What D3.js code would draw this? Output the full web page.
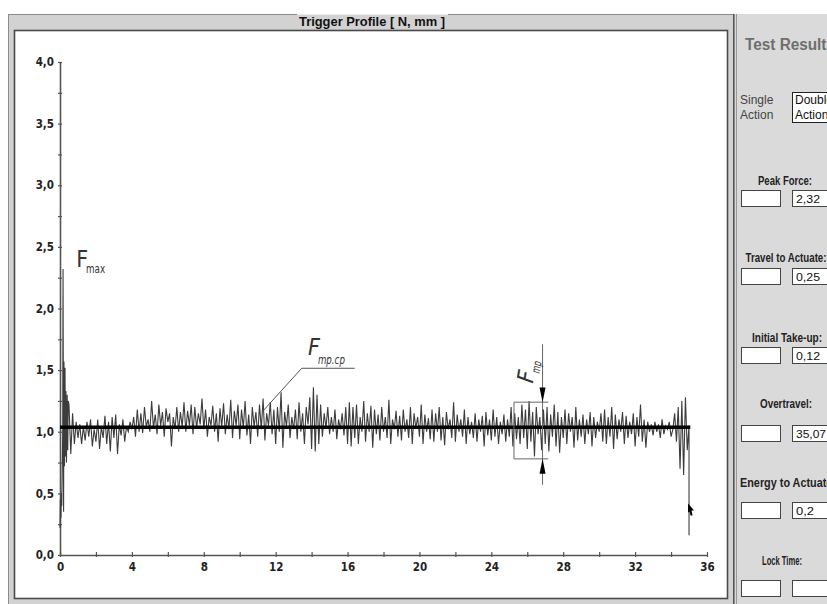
<!DOCTYPE html>
<html><head><meta charset="utf-8">
<script src="https://cdn.jsdelivr.net/npm/d3@7"></script>
<style>html,body{margin:0;padding:0;background:#fff;overflow:hidden}svg{display:block}</style>
</head><body>
<svg id="c" width="827" height="604"></svg>
<script>
// ---------- data ----------
const title = "Trigger Profile [ N, mm ]";
const xTickValues = [0, 4, 8, 12, 16, 20, 24, 28, 32, 36];
const xMinorTicks = [2, 6, 10, 14, 18, 22, 26, 30, 34];
const yTickValues = [0, 0.5, 1.0, 1.5, 2.0, 2.5, 3.0, 3.5, 4.0];
const yMinorTicks = [0.25, 0.75, 1.25, 1.75, 2.25, 2.75, 3.25, 3.75];

// initial take-up region (fine sampling)
const startTravel = [0, 0.02, 0.05, 0.08, 0.1, 0.13, 0.15, 0.17, 0.2, 0.22, 0.25, 0.28, 0.3, 0.33, 0.36, 0.4, 0.43, 0.46];
const startForce  = [0.22, 0.45, 0.3, 0.5, 0.4, 0.75, 1.0, 2.32, 0.35, 1.57, 0.72, 1.52, 0.8, 1.33, 0.75, 1.3, 0.85, 1.25];

// main trace, every 0.1 mm from 0.5 mm to 35.0 mm
const forceStart = 0.5, forceStep = 0.1;
const force = [
 1.22, 0.82, 1.15, 0.90, 1.08,
 0.95, 1.06, 0.90, 1.04, 0.93, 1.08, 0.96, 1.10, 0.88, 1.02,
 0.92, 1.10, 0.86, 1.04, 0.95, 1.13, 0.90, 1.08, 0.84, 1.12,
 0.95, 1.14, 0.82, 1.06, 0.97, 1.10, 0.92, 1.04, 1.00, 1.08,
 1.02, 1.12, 0.96, 1.18, 1.00, 1.15, 0.99, 1.20, 1.04, 1.10,
 1.00, 1.25, 1.03, 1.14, 0.98, 1.22, 1.05, 1.16, 0.96, 1.19,
 1.08, 1.15, 0.88, 1.12, 1.02, 1.20, 1.00, 1.16, 1.04, 1.24,
 1.00, 1.17, 1.05, 1.22, 0.98, 1.20, 1.03, 1.15, 1.06, 1.27,
 1.02, 1.18, 0.96, 1.12, 1.05, 1.21, 1.00, 1.15, 0.92, 1.19,
 1.04, 1.23, 0.98, 1.14, 1.02, 1.26, 0.95, 1.17, 1.05, 1.22,
 0.94, 1.18, 1.03, 1.25, 0.97, 1.14, 0.90, 1.20, 1.04, 1.16,
 0.96, 1.22, 1.02, 1.27, 0.93, 1.15, 1.05, 1.24, 0.98, 1.18,
 0.90, 1.20, 1.00, 1.32, 0.87, 1.16, 1.04, 1.22, 0.95, 1.12,
 1.02, 1.18, 0.94, 1.24, 1.00, 1.15, 0.90, 1.20, 1.06, 1.28,
 0.86, 1.36, 0.84, 1.30, 0.90, 1.22, 0.96, 1.15, 1.03, 1.20,
 0.98, 1.12, 1.00, 1.18, 0.94, 1.10, 1.02, 1.15, 0.97, 1.20,
 0.90, 1.24, 0.88, 1.20, 0.95, 1.22, 0.90, 1.12, 1.00, 1.25,
 0.92, 1.15, 1.00, 1.21, 0.87, 1.18, 0.98, 1.14, 0.93, 1.20,
 1.00, 1.12, 0.95, 1.26, 0.90, 1.10, 1.02, 1.17, 0.96, 1.13,
 0.93, 1.18, 1.00, 1.10, 0.95, 1.20, 0.90, 1.15, 1.03, 1.12,
 0.96, 1.22, 0.90, 1.14, 1.00, 1.11, 0.94, 1.18, 0.92, 1.15,
 1.00, 1.20, 0.93, 1.12, 0.89, 1.16, 1.02, 1.10, 0.95, 1.24,
 0.92, 1.14, 1.00, 1.10, 0.96, 1.18, 0.90, 1.12, 0.98, 1.08,
 0.95, 1.15, 0.92, 1.10, 1.00, 1.13, 0.88, 1.16, 0.97, 1.10,
 0.93, 1.18, 0.96, 1.12, 0.90, 1.08, 0.98, 1.14, 0.92, 1.10,
 0.96, 1.20, 0.88, 1.15, 0.94, 1.12, 0.90, 1.22, 0.95, 1.18,
 0.86, 1.25, 0.92, 1.16, 0.80, 1.20, 0.98, 1.12, 0.85, 1.18,
 0.90, 1.20, 0.84, 1.14, 0.96, 1.22, 0.88, 1.16, 0.83, 1.12,
 0.95, 1.18, 0.90, 1.15, 1.00, 1.12, 0.87, 1.20, 0.93, 1.10,
 0.96, 1.14, 0.90, 1.10, 0.98, 1.16, 0.88, 1.12, 0.95, 1.08,
 1.00, 1.15, 0.92, 1.18, 0.90, 1.12, 0.96, 1.20, 0.86, 1.14,
 0.94, 1.10, 1.00, 1.16, 0.90, 1.13, 0.95, 1.08, 0.98, 1.15,
 0.88, 1.12, 0.96, 1.22, 0.92, 1.10, 0.87, 1.08, 1.00, 1.06,
 0.97, 1.08, 1.00, 1.06, 0.95, 1.10, 0.98, 1.05, 1.02, 1.08,
 0.96, 1.02, 1.15, 0.92, 1.20, 0.70, 1.25, 0.65, 1.28, 0.85,
 1.05
];
const endTravel = [35.0];
const endForce  = [0.16];

const meanForce = 1.036;      // F mp.cp
const overtravel = 35.07;
const peakForce = 2.32;
const fmpTop = 1.24, fmpBottom = 0.78, fmpFrom = 25.26, fmpTo = 27.17, fmpAt = 26.85;

const resultLabels = ["Peak Force:", "Travel to Actuate:", "Initial Take-up:", "Overtravel:", "Energy to Actuate:", "Lock Time:"];
const resultValues = ["2,32", "0,25", "0,12", "35,07", "0,2", ""];

// ---------- drawing ----------
const NARROW = "'Liberation Sans Narrow','Arial Narrow','DejaVu Sans Condensed',sans-serif";
const SANS = "'Liberation Sans',Arial,sans-serif";
const svg = d3.select("#c");

// group box frame
svg.append("rect").attr("x", 8.5).attr("y", 14.5).attr("width", 726).attr("height", 592)
  .attr("fill", "#d2d2d2").attr("stroke", "#8c8c8c");
svg.append("rect").attr("x", 14.5).attr("y", 30.5).attr("width", 713).attr("height", 568)
  .attr("fill", "#fff").attr("stroke", "#4a4a4a").attr("stroke-width", 1.6);
// right panel
svg.append("rect").attr("x", 735).attr("y", 14).attr("width", 92).attr("height", 590).attr("fill", "#dadada");
svg.append("line").attr("x1", 733.5).attr("x2", 733.5).attr("y1", 14).attr("y2", 604).attr("stroke", "#555");
svg.append("line").attr("x1", 736.5).attr("x2", 736.5).attr("y1", 14).attr("y2", 604).attr("stroke", "#999");

// title over frame line
svg.append("rect").attr("x", 297).attr("y", 12).attr("width", 151).attr("height", 5).attr("fill", "#d2d2d2");
svg.append("rect").attr("x", 297).attr("y", 12).attr("width", 151).attr("height", 2.5).attr("fill", "#fff");
svg.append("text").attr("x", 372).attr("y", 25.5).attr("text-anchor", "middle")
  .attr("font-family", SANS).attr("font-weight", "bold").attr("font-size", 13).attr("fill", "#111")
  .attr("textLength", 146).attr("lengthAdjust", "spacingAndGlyphs").text(title);

const x = d3.scaleLinear().domain([0, 36]).range([60, 707]);
const y = d3.scaleLinear().domain([0, 4]).range([555, 62]);
const loc = d3.formatLocale({decimal: ",", thousands: ".", grouping: [3], currency: ["", ""]});
const f1 = loc.format(".1f");

// axes
const yAx = svg.append("g").attr("transform", `translate(${x(0)},0)`)
  .call(d3.axisLeft(y).tickValues(yTickValues.concat(yMinorTicks)).tickSize(3).tickSizeOuter(0)
    .tickFormat(d => yTickValues.includes(d) ? f1(d) : ""));
yAx.selectAll("line").attr("x1", 2).attr("x2", -2);
const xAx = svg.append("g").attr("transform", `translate(0,${y(0)})`)
  .call(d3.axisBottom(x).tickValues(xTickValues.concat(xMinorTicks)).tickSize(3).tickSizeOuter(0)
    .tickFormat(d => xTickValues.includes(d) ? String(d) : ""));
xAx.selectAll("line").attr("y1", -3).attr("y2", 2);
[yAx, xAx].forEach(g => {
  g.select(".domain").attr("stroke", "#555").attr("stroke-width", 1.6);
  g.selectAll("line").attr("stroke", "#555").attr("stroke-width", 1.2);
  g.selectAll("text").attr("font-family", NARROW).attr("font-weight", "bold")
    .attr("font-size", 11.5).attr("fill", "#222");
});
yAx.selectAll("text").attr("x", -6);
xAx.selectAll("text").attr("y", 8);

// data series
const pts = [];
startTravel.forEach((t, i) => pts.push([t, startForce[i]]));
force.forEach((f, i) => pts.push([+(forceStart + i * forceStep).toFixed(2), f]));
endTravel.forEach((t, i) => pts.push([t, endForce[i]]));
const line = d3.line().x(d => x(d[0])).y(d => y(d[1]));
svg.append("path").datum(pts).attr("d", line).attr("fill", "none")
  .attr("stroke", "#3c3c3c").attr("stroke-width", 1.1).attr("stroke-linejoin", "miter");

// mean line
svg.append("line").attr("x1", x(0)).attr("x2", x(overtravel)).attr("y1", y(meanForce)).attr("y2", y(meanForce))
  .attr("stroke", "#000").attr("stroke-width", 3.5);

// cursor marker at end
svg.append("path").attr("transform", `translate(${x(35.0)},${y(0.37)})`)
  .attr("d", "M-1,-6 L5,1 L2.5,1 L3.5,6 L1.5,6 L0.5,2 L-1,3 Z").attr("fill", "#000");

// F max label
const lbl = svg.append("g").attr("font-family", NARROW).attr("fill", "#333");
lbl.append("text").attr("x", x(0.9)).attr("y", y(peakForce + 0.02)).attr("font-size", 23).text("F");
lbl.append("text").attr("x", x(1.45)).attr("y", y(peakForce - 0.03)).attr("font-size", 13)
  .attr("textLength", 19).attr("lengthAdjust", "spacingAndGlyphs").text("max");

// F mp.cp label + leader
svg.append("path").attr("d", d3.line()([[x(11.3), y(1.17)], [x(13.45), y(1.515)], [x(16.4), y(1.515)]]))
  .attr("fill", "none").attr("stroke", "#555").attr("stroke-width", 1);
lbl.append("text").attr("x", x(13.8)).attr("y", y(1.62)).attr("font-size", 23).attr("font-style", "italic").text("F");
lbl.append("text").attr("x", x(14.35)).attr("y", y(1.55)).attr("font-size", 12).attr("font-style", "italic")
  .attr("textLength", 27).attr("lengthAdjust", "spacingAndGlyphs").text("mp.cp");

// F mp bracket
const br = svg.append("g").attr("stroke", "#666").attr("fill", "none").attr("stroke-width", 1);
br.append("path").attr("d", d3.line()([[x(fmpTo), y(fmpTop)], [x(fmpFrom), y(fmpTop)], [x(fmpFrom), y(fmpBottom)], [x(fmpTo), y(fmpBottom)]]));
br.append("line").attr("x1", x(fmpAt)).attr("x2", x(fmpAt)).attr("y1", y(1.71)).attr("y2", y(0.57));
const ax = x(fmpAt);
svg.append("path").attr("d", `M${ax - 3},${y(fmpTop + 0.12)} L${ax + 3},${y(fmpTop + 0.12)} L${ax},${y(fmpTop)} Z`).attr("fill", "#000");
svg.append("path").attr("d", `M${ax - 3},${y(fmpBottom - 0.12)} L${ax + 3},${y(fmpBottom - 0.12)} L${ax},${y(fmpBottom)} Z`).attr("fill", "#000");
const rl = svg.append("g").attr("transform", `translate(${x(26.3)},${y(1.39)}) rotate(-80)`)
  .attr("font-family", NARROW).attr("fill", "#333").attr("font-style", "italic");
rl.append("text").attr("x", 0).attr("y", 0).attr("font-size", 23).text("F");
rl.append("text").attr("x", 11).attr("y", 5).attr("font-size", 12)
  .attr("textLength", 12).attr("lengthAdjust", "spacingAndGlyphs").text("mp");

// right panel contents
const rp = svg.append("g");
rp.append("text").attr("x", 745).attr("y", 50).attr("font-family", SANS).attr("font-weight", "bold")
  .attr("font-size", 16).attr("fill", "#6e6e6e").attr("textLength", 90).attr("lengthAdjust", "spacingAndGlyphs")
  .text("Test Results");
rp.append("text").attr("x", 740).attr("y", 104).attr("font-family", SANS).attr("font-size", 12).attr("fill", "#444").text("Single");
rp.append("text").attr("x", 740).attr("y", 119).attr("font-family", SANS).attr("font-size", 12).attr("fill", "#444").text("Action");
rp.append("rect").attr("x", 792.5).attr("y", 92.5).attr("width", 50).attr("height", 30).attr("fill", "#fff").attr("stroke", "#222");
rp.append("text").attr("x", 795).attr("y", 104).attr("font-family", SANS).attr("font-size", 12).attr("fill", "#111").text("Double");
rp.append("text").attr("x", 795).attr("y", 119).attr("font-family", SANS).attr("font-size", 12).attr("fill", "#111").text("Action");

const labelY = [184.5, 261.5, 341.5, 407.5, 486.5, 564.5];
const labelX = [785, 786, 787, 786, 788, 782];
const labelW = [54, 81, 70, 52, 96, 40];
const boxY = [190, 268, 347, 425, 502, 580];
resultLabels.forEach((lab, i) => {
  rp.append("text").attr("x", labelX[i]).attr("y", labelY[i]).attr("text-anchor", "middle")
    .attr("font-family", SANS).attr("font-weight", "bold").attr("font-size", 13).attr("fill", "#222")
    .attr("textLength", labelW[i]).attr("lengthAdjust", "spacingAndGlyphs").text(lab);
  rp.append("rect").attr("x", 741.5).attr("y", boxY[i] + 0.5).attr("width", 39).attr("height", 16)
    .attr("fill", "#fff").attr("stroke", "#444");
  rp.append("rect").attr("x", 792.5).attr("y", boxY[i] + 0.5).attr("width", 50).attr("height", 16)
    .attr("fill", "#fff").attr("stroke", "#444");
  rp.append("text").attr("x", 796).attr("y", boxY[i] + 12.5).attr("font-family", SANS)
    .attr("font-size", 11).attr("fill", "#111").attr("textLength", 6 * resultValues[i].length)
    .attr("lengthAdjust", "spacingAndGlyphs").text(resultValues[i]);
});
</script>
</body></html>
